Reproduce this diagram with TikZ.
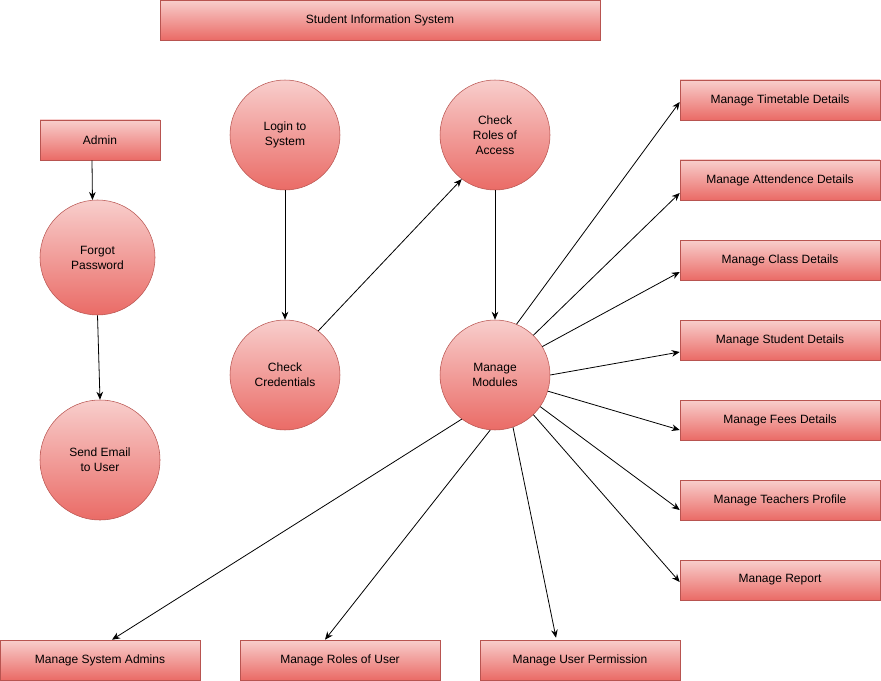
\documentclass[tikz,border=0pt]{standalone}
\usepackage{fontspec}
\setmainfont{Liberation Sans}
\usetikzlibrary{arrows.meta}
\definecolor{sispale}{HTML}{F8CECC}
\definecolor{sisdeep}{HTML}{EA6B66}
\definecolor{sisedge}{HTML}{B85450}

\begin{document}
\begin{tikzpicture}[x=0.75pt, y=-0.75pt, font=\fontsize{9}{11.25}\selectfont,
    proc/.style={draw=sisedge, circle, top color=sispale, bottom color=sisdeep, align=center, inner sep=0pt, minimum size=82.5pt},
    ent/.style={draw=sisedge, rectangle, top color=sispale, bottom color=sisdeep, inner sep=0pt, minimum width=150pt, minimum height=30pt},
    flow/.style={-{Stealth[length=6pt,width=5pt]}, line width=0.6pt}]
    \useasboundingbox (0,0) rectangle (881,681);
    \node[ent, minimum width=330pt] (title) at (380,20) {Student Information System};
    \node[ent, minimum width=90pt] (admin) at (100,140) {Admin};
    \node[proc, minimum size=86.25pt] (forgot) at (97.5,257.5) {Forgot\\Password};
    \node[proc, minimum size=90pt] (email) at (100,460) {Send Email\\to User};
    \node[proc] (login) at (285,135) {Login to\\System};
    \node[proc] (cred) at (285,375) {Check\\Credentials};
    \node[proc] (roles) at (495,135) {Check\\Roles of\\Access};
    \node[proc] (modules) at (495,375) {Manage\\Modules};
    % modules on the right
    \node[ent] (timetable) at (780,100) {Manage Timetable Details};
    \node[ent] (attend) at (780,180) {Manage Attendence Details};
    \node[ent] (class) at (780,260) {Manage Class Details};
    \node[ent] (student) at (780,340) {Manage Student Details};
    \node[ent] (fees) at (780,420) {Manage Fees Details};
    \node[ent] (teachers) at (780,500) {Manage Teachers Profile};
    \node[ent] (report) at (780,580) {Manage Report};
    % modules at the bottom
    \node[ent] (sysadmins) at (100,660) {Manage System Admins};
    \node[ent] (userroles) at (340,660) {Manage Roles of User};
    \node[ent] (perms) at (580,660) {Manage User Permission};
    \draw[flow] ([xshift=-6pt]admin.south) -- (forgot.95);
    \draw[flow] (forgot.south) -- (email.north);
    \draw[flow] (login.south) -- (cred.north);
    \draw[flow] (cred.53) -- (roles.-127);
    \draw[flow] (roles.south) -- (modules.north);
    \draw[flow] (modules.67) -- ([yshift=-1.5pt]timetable.west);
    \draw[flow] (modules.46) -- ([yshift=-9.75pt]attend.west);
    \draw[flow] (modules.31) -- ([yshift=-9pt]class.west);
    \draw[flow] (modules.0) -- ([yshift=-9pt]student.west);
    \draw[flow] (modules.-17) -- ([yshift=-7.5pt]fees.west);
    \draw[flow] (modules.-35) -- ([yshift=-7.5pt]teachers.west);
    \draw[flow] (modules.-46) -- ([yshift=-1.5pt]report.west);
    \draw[flow] (modules.-127) -- ([xshift=9pt]sysadmins.north);
    \draw[flow] (modules.-95) -- ([xshift=-11.25pt]userroles.north);
    \draw[flow] (modules.-71) -- ([xshift=-18pt,yshift=1.5pt]perms.north);
\end{tikzpicture}
\end{document}
